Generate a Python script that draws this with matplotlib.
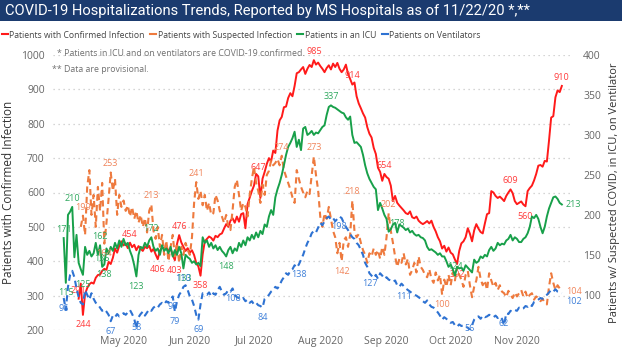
import matplotlib
matplotlib.use("Agg")
import matplotlib.pyplot as plt
import matplotlib.dates as mdates
from matplotlib.lines import Line2D
from matplotlib.patches import Rectangle
import pandas as pd

# ---------------- data (daily values) ----------------
red_start = "2020-04-10"   # Patients with Confirmed Infection (left axis)
red_vals = [
    291, 335, 244, 305, 322, 333, 338, 335, 352, 360, 361, 372, 378, 375, 398, 392, 410, 437, 425, 445, 458,
    446, 452, 438, 454, 441, 448, 432, 444, 436, 430, 442, 438, 445, 428, 436, 420, 406, 431, 440, 435,
    446, 428, 437, 418, 403, 450, 476, 455, 442, 430, 438,
    425, 432, 418, 395, 385, 358, 420, 458, 465, 472, 468, 460, 474, 470, 478, 481, 495, 508, 500, 518,
    525, 512, 530, 515, 537, 540, 496, 566, 585, 604,
    620, 654, 647, 584, 640, 660, 683, 700, 690, 722, 715, 780, 810, 820, 848, 850, 875, 889, 880, 910,
    947, 950, 958, 965, 945, 960, 971, 965, 985, 972, 978,
    968, 960, 950, 962, 970, 958, 975, 965, 977, 960, 950, 958, 972, 945, 930, 914, 920, 880, 859, 845,
    830, 818, 790, 771, 760, 730, 712, 672, 660, 634, 654,
    645, 640, 620, 575, 590, 570, 562, 555, 548, 540, 537, 545, 528, 525, 530, 518, 512, 508, 512, 517,
    510, 518, 500, 487, 470, 458, 437, 445, 428, 440,
    425, 420, 405, 392, 430, 452, 458, 470, 496, 480, 458, 490, 508, 495, 485, 481, 510, 537, 540, 604,
    600, 590, 584, 588, 582, 575, 590, 600, 609, 598, 575,
    566, 570, 574, 565, 560, 604, 613, 620, 635, 654, 678, 680, 675, 692, 690, 751, 818, 822, 877, 897,
    892, 910,
]

orange_start = "2020-04-11"  # Patients with Suspected Infection (right axis)
orange_vals = [
    185, 199, 175, 235, 256, 200, 225, 185, 235, 205, 240, 164, 190, 220, 253, 230, 245, 200, 225, 210,
    218, 205, 212, 198, 210, 195, 205, 190, 200, 185, 196, 178, 205, 213, 180, 170, 185, 160, 175, 150,
    168, 142, 160, 175, 148, 165, 140, 160, 150, 165, 156,
    150, 172, 215, 241, 220, 230, 212, 225, 205, 215, 200, 202, 225, 218, 205, 198, 190, 200, 185, 181,
    206, 235, 244, 225, 205, 215, 210, 198, 225, 245,
    260, 240, 230, 215, 238, 225, 250, 255, 268, 262, 265, 270, 262, 274, 256, 248, 240, 232, 222, 215,
    256, 245, 235, 228, 222, 230, 226, 250, 273, 250, 231,
    198, 185, 202, 195, 210, 195, 180, 172, 152, 165, 142, 168, 172, 160, 175, 218, 180, 172, 176, 165,
    156, 150, 140, 152, 148, 158, 150, 156, 145, 160, 150,
    172, 202, 180, 165, 148, 135, 145, 140, 152, 138, 145, 125, 131, 140, 128, 148, 135, 131, 125, 122,
    132, 120, 115, 128, 118, 125, 100, 119, 110, 125,
    112, 128, 118, 135, 125, 119, 110, 125, 130, 112, 97, 110, 118, 135, 120, 112, 118, 106, 127, 118,
    110, 115, 106, 112, 104, 102, 97, 105, 100, 96, 103,
    98, 102, 106, 98, 104, 96, 100, 102, 94, 98, 96, 92, 95, 90, 88, 110, 127, 115, 106, 112,
    108, 104,
]

green_start = "2020-04-03"  # Patients in an ICU (right axis)
green_vals = [
    171, 115, 200, 204, 210, 147, 175, 140, 132, 125, 160, 150, 155, 148, 152, 165, 150, 162, 135, 138,
    158, 152, 160, 155, 165, 158, 168, 160,
    170, 162, 165, 155, 148, 137, 123, 150, 160, 158, 165, 160, 168, 172, 160, 155, 158, 150, 162, 155,
    158, 152, 160, 148, 156, 150, 160, 152, 133, 150, 147,
    145, 140, 142, 138, 140, 136, 172, 165, 168, 160, 165, 158, 162, 156, 160, 155, 152, 148, 156, 160,
    152, 158, 155, 165, 160, 168, 162, 172, 168, 175,
    170, 178, 172, 180, 176, 188, 185, 198, 206, 200, 222, 232, 240, 250, 262, 275, 285, 290, 296, 304,
    285, 294, 281, 308, 310, 300, 302, 305, 300, 303, 302,
    306, 310, 312, 325, 335, 337, 335, 334, 332, 330, 328, 327, 322, 319, 323, 300, 290, 291, 288, 285,
    275, 262, 252, 245, 240, 235, 232, 206, 215, 208, 200,
    195, 179, 182, 188, 190, 178, 188, 186, 184, 181, 183, 178, 180, 176, 174, 175, 172, 171, 168, 160,
    156, 157, 155, 153, 150, 152, 148, 148, 142, 135,
    138, 132, 124, 135, 133, 134, 130, 137, 134, 131, 128, 144, 140, 142, 148, 146, 150, 148, 156, 160,
    155, 158, 165, 162, 164, 163, 168, 170, 175, 168, 172,
    170, 166, 166, 170, 172, 177, 185, 198, 196, 200, 195, 185, 177, 185, 198, 208, 215, 222, 223, 220,
    215, 213,
]

blue_start = "2020-04-03"  # Patients on Ventilators (right axis)
blue_vals = [
    96, 81, 110, 125, 130, 122, 108, 97, 90, 88, 106, 100, 94, 102, 95, 90, 88, 84, 80, 82,
    79, 75, 67, 74, 72, 76, 73, 75,
    77, 75, 78, 81, 76, 70, 58, 72, 76, 79, 74, 78, 82, 80, 84, 86, 84, 88, 90, 88,
    92, 90, 94, 98, 79, 92, 100, 104, 110, 112, 106,
    98, 94, 86, 75, 69, 88, 102, 101, 100, 103, 98, 102, 100, 106, 110, 104, 100, 102, 106, 104,
    108, 100, 97, 96, 94, 96, 92, 94, 90, 92,
    88, 90, 87, 86, 84, 95, 97, 100, 104, 106, 110, 108, 112, 118, 122, 127, 125, 130, 132, 137,
    134, 138, 144, 150, 158, 165, 170, 177, 180, 178, 184,
    190, 187, 192, 196, 198, 194, 196, 192, 195, 198, 196, 190, 185, 181, 176, 172, 170, 165, 162, 156,
    150, 140, 135, 127, 124, 121, 125, 120, 127, 124, 120,
    122, 119, 118, 116, 118, 112, 110, 114, 111, 108, 106, 104, 102, 100, 99, 97, 95, 92, 90, 93,
    88, 85, 84, 81, 78, 74, 69, 72, 70, 67,
    65, 66, 62, 60, 63, 61, 62, 60, 59, 56, 62, 69, 72, 73, 70, 74, 72, 73, 75, 74,
    72, 74, 71, 73, 70, 62, 77, 76, 80, 79, 81,
    80, 84, 82, 83, 86, 85, 88, 86, 91, 92, 94, 96, 95, 98, 100, 103, 106, 104, 107, 104,
    103, 102,
]

series_names = ["Patients with Confirmed Infection", "Patients with Suspected Infection",
                "Patients in an ICU", "Patients on Ventilators"]

# dates whose values carry data labels in the original, with label placement
red_labels = {"2020-04-10": "above", "2020-04-12": "below", "2020-05-04": "above", "2020-05-17": "below",
              "2020-05-25": "below", "2020-05-27": "above", "2020-06-06": "below", "2020-07-03": "above",
              "2020-07-29": "above", "2020-08-16": "above", "2020-08-31": "above", "2020-10-04": "below",
              "2020-10-29": "above", "2020-11-05": "below", "2020-11-22": "above"}
orange_labels = {"2020-04-12": "above", "2020-04-22": "below", "2020-04-25": "above", "2020-05-14": "above",
                 "2020-06-04": "above", "2020-07-14": "above", "2020-07-29": "above", "2020-08-11": "below",
                 "2020-08-16": "above", "2020-09-02": "above", "2020-09-27": "below", "2020-11-22": "right"}
green_labels = {"2020-04-03": "above", "2020-04-04": "below", "2020-04-07": "above", "2020-04-12": "below",
                "2020-04-20": "above", "2020-04-21": "above", "2020-04-22": "below", "2020-05-07": "below",
                "2020-05-14": "above", "2020-05-29": "below", "2020-06-18": "below", "2020-08-06": "above",
                "2020-09-06": "above", "2020-10-03": "above", "2020-11-22": "right"}
blue_labels = {"2020-04-03": "below", "2020-04-25": "below", "2020-05-07": "center", "2020-05-24": "below",
               "2020-05-25": "below", "2020-05-29": "above", "2020-06-05": "below", "2020-06-21": "below",
               "2020-07-05": "below", "2020-07-22": "below", "2020-08-10": "below", "2020-08-24": "below",
               "2020-09-09": "below", "2020-10-10": "center", "2020-10-26": "center", "2020-11-22": "rightbelow"}

left_ticks = [200, 300, 400, 500, 600, 700, 800, 900, 1000]
right_ticks = [100, 150, 200, 250, 300, 350, 400]

# ---------------- styling ----------------
C_RED, C_ORA, C_GRN, C_BLU = "#FF1A1A", "#EE7A3E", "#18A04A", "#2E72D2"
L_RED, L_ORA, L_GRN, L_BLU = "#FF3B3B", "#F0845A", "#2FA85E", "#3D7FD8"
TXT = "#666666"

plt.rcParams["font.family"] = ["Open Sans", "DejaVu Sans"]

fig = plt.figure(figsize=(6.22, 3.52), dpi=100)
W, H = 622, 352

# title bar
fig.patches.append(Rectangle((0, 1 - 21 / H), 1, 21 / H, transform=fig.transFigure,
                             facecolor="#1B3B6F", edgecolor="none", zorder=0))
fig.text(5 / W, 1 - 10.5 / H, "COVID-19 Hospitalizations Trends, Reported by MS Hospitals as of 11/22/20 *,**",
         color="white", fontsize=10.6, va="center", ha="left",
         family=["Liberation Sans Narrow", "Roboto", "DejaVu Sans"])

ax = fig.add_axes([53 / W, 1 - 330 / H, (572 - 53) / W, (330 - 55) / H])
ax2 = ax.twinx()


def dr(start, vals):
    return pd.date_range(start, periods=len(vals), freq="D")


d_red = dr(red_start, red_vals)
d_ora = dr(orange_start, orange_vals)
d_grn = dr(green_start, green_vals)
d_blu = dr(blue_start, blue_vals)

ax.plot(d_red, red_vals, color=C_RED, lw=1.4, solid_joinstyle="round", zorder=3)
ax2.plot(d_ora, orange_vals, color=C_ORA, lw=1.5, ls=(0, (3, 2)), zorder=2)
ax2.plot(d_grn, green_vals, color=C_GRN, lw=1.4, solid_joinstyle="round", zorder=3)
ax2.plot(d_blu, blue_vals, color=C_BLU, lw=1.5, ls=(0, (3, 2)), zorder=2)

ax.set_ylim(200, 1000)
ax2.set_ylim(56, 400)
ax.set_xlim(pd.Timestamp("2020-03-29"), pd.Timestamp("2020-11-26 18:00"))

ax.set_yticks(left_ticks)
ax2.set_yticks(right_ticks)
ax.yaxis.grid(True, color="#C8C8C8", ls=(0, (1, 3)), lw=0.9)
ax.set_axisbelow(True)

ax.xaxis.set_major_locator(mdates.MonthLocator(bymonth=range(5, 12)))
ax.xaxis.set_major_formatter(mdates.DateFormatter("%b %Y"))

for a in (ax, ax2):
    for s in a.spines.values():
        s.set_visible(False)
    a.tick_params(length=0, labelsize=7.5, colors=TXT)
ax.tick_params(axis="x", pad=4)
ax.tick_params(axis="y", pad=6)
ax2.tick_params(axis="y", pad=8)
ax2.patch.set_visible(False)

ax.set_ylabel("Patients with Confirmed Infection", fontsize=8.5, color="#333333", labelpad=4)
ax2.set_ylabel("Patients w/ Suspected COVID, in ICU, on Ventilator", fontsize=8, color="#333333", labelpad=6)

PLACE = {
    "above": ((0, 3), "center", "bottom"),
    "below": ((0, -4), "center", "top"),
    "center": ((0, 1), "center", "center"),
    "right": ((3, 0), "left", "center"),
    "rightbelow": ((3, -3), "left", "top"),
}


def add_labels(axis, dates, vals, labels, color):
    for ds, where in labels.items():
        i = (pd.Timestamp(ds) - dates[0]).days
        v = vals[i]
        off, ha, va = PLACE[where]
        axis.annotate(str(v), (dates[i], v), xytext=off, textcoords="offset points",
                      ha=ha, va=va, color=color, fontsize=6.5, zorder=6)


add_labels(ax, d_red, red_vals, red_labels, L_RED)
add_labels(ax2, d_ora, orange_vals, orange_labels, L_ORA)
add_labels(ax2, d_grn, green_vals, green_labels, L_GRN)
add_labels(ax2, d_blu, blue_vals, blue_labels, L_BLU)

# notes inside the plot
ax.text(57 / W, 1 - 54 / H, "* Patients in ICU and on ventilators are COVID-19 confirmed.",
        transform=fig.transFigure, fontsize=6.3, color="#707070", va="center", ha="left")
ax.text(52 / W, 1 - 69 / H, "** Data are provisional.",
        transform=fig.transFigure, fontsize=6.3, color="#707070", va="center", ha="left")

# legend
handles = [Line2D([], [], color=c, lw=1.5) for c in (C_RED, C_ORA, C_GRN, C_BLU)]
fig.legend(handles, series_names, loc="center left", bbox_to_anchor=(0, 1 - 35 / H), ncol=4,
           frameon=False, fontsize=6.2, handlelength=0.7, handletextpad=0.2, columnspacing=0.6,
           borderaxespad=0, borderpad=0.2, labelcolor="#444444")

fig.savefig("out.png", dpi=100)
